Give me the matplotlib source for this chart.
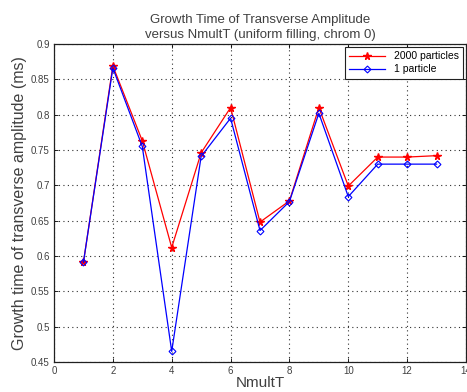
import matplotlib
matplotlib.use("Agg")
import matplotlib.pyplot as plt
import numpy as np

plt.rcParams['font.family'] = ['Liberation Sans', 'DejaVu Sans']

nmult = [1, 2, 3, 4, 5, 6, 7, 8, 9, 10, 11, 12, 13]
t_2000 = [0.591, 0.869, 0.763, 0.612, 0.746, 0.810, 0.648, 0.678, 0.810, 0.699, 0.740, 0.740, 0.742]
t_1 = [0.591, 0.866, 0.755, 0.465, 0.741, 0.795, 0.636, 0.677, 0.802, 0.684, 0.730, 0.730, 0.730]

txt = '#404040'

fig = plt.figure(figsize=(4.67, 3.92), dpi=100)
ax = fig.add_axes([54 / 467, 30 / 392, 412 / 467, 318 / 392])

ax.plot(nmult, t_2000, color='r', marker='*', markersize=5.5, linewidth=0.9, label='2000 particles')
ax.plot(nmult, t_1, color='b', marker='D', markersize=3.5, markerfacecolor='none',
        markeredgewidth=0.8, linewidth=0.9, label='1 particle')

ax.set_xlim(0, 14)
ax.set_ylim(0.45, 0.9)
ax.set_xticks(np.arange(0, 15, 2))
ax.set_yticks(np.arange(0.45, 0.901, 0.05))
ax.set_yticklabels(['0.45', '0.5', '0.55', '0.6', '0.65', '0.7', '0.75', '0.8', '0.85', '0.9'])
ax.tick_params(labelsize=7, labelcolor=txt, direction='in', length=3, width=0.6,
               top=True, right=True, pad=3)
ax.grid(True, linestyle=(0, (1, 3)), color='#303030', linewidth=0.8)
for s in ax.spines.values():
    s.set_linewidth(0.9)
    s.set_color('#202020')

ax.set_title('Growth Time of Transverse Amplitude\nversus NmultT (uniform filling, chrom 0)',
             fontsize=9.5, color=txt, pad=4, linespacing=1.4)
ax.set_xlabel('NmultT', fontsize=11, color=txt, labelpad=0)
ax.set_ylabel('Growth time of transverse amplitude (ms)', fontsize=11.5, color=txt, labelpad=3)

leg = ax.legend(loc='upper right', fontsize=7.5, fancybox=False, edgecolor='#202020',
                borderaxespad=0.3, handlelength=3.5, framealpha=1, labelspacing=0.3)
leg.get_frame().set_linewidth(0.8)

fig.savefig('out.png', dpi=100)
